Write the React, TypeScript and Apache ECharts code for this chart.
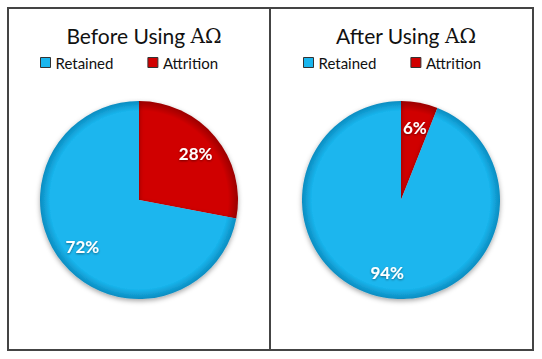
import React, { useEffect, useRef } from "react";
import * as echarts from "echarts";

const categories = ["Attrition", "Retained"];
const beforeValues = [28, 72];
const afterValues = [6, 94];
const titles = ["Before Using ", "After Using "];
const titleSuffix = "AΩ";
const legendNames = ["Retained", "Attrition"];

const BLUE = "#1ab6ee";
const BLUE_DARK = "#0b8cc0";
const RED = "#d00000";
const RED_DARK = "#9a0000";

const radial = (cx: number, cy: number, r: number, c1: string, c2: string) => ({
  type: "radial",
  x: cx,
  y: cy,
  r,
  global: true,
  colorStops: [
    { offset: 0, color: c1 },
    { offset: 0.9, color: c1 },
    { offset: 1, color: c2 },
  ],
});

export default function App() {
  const ref = useRef<HTMLDivElement>(null);
  useEffect(() => {
    document.body.style.margin = "0";
    const chart = echarts.init(ref.current!, undefined, { renderer: "svg" });
    const centers: [number, number][] = [
      [139, 200],
      [401, 200],
    ];
    const R = 99;
    const datasets = [beforeValues, afterValues];

    const series: any[] = [];
    datasets.forEach((vals, i) => {
      const [cx, cy] = centers[i];
      const colors: Record<string, any> = {
        Retained: radial(cx, cy, R, BLUE, BLUE_DARK),
        Attrition: radial(cx, cy, R, RED, RED_DARK),
      };
      series.push({
        type: "pie",
        name: "pie" + i,
        center: [cx, cy],
        radius: [0, R],
        startAngle: 90,
        clockwise: true,
        silent: true,
        label: { show: false },
        labelLine: { show: false },
        itemStyle: {
          shadowBlur: 5,
          shadowOffsetY: 2,
          shadowColor: "rgba(0,0,0,0.35)",
        },
        data: categories.map((c, k) => ({
          name: c,
          value: vals[k],
          itemStyle: { color: colors[c] },
        })),
      });
      series.push({
        type: "pie",
        name: "labels" + i,
        center: [cx, cy],
        radius: [42, R],
        startAngle: 90,
        clockwise: true,
        silent: true,
        itemStyle: { color: "rgba(0,0,0,0)" },
        label: {
          show: true,
          position: "inside",
          formatter: "{c}%",
          color: "#ffffff",
          fontFamily: "Lato",
          fontWeight: "bold",
          fontSize: 17,
          textShadowColor: "rgba(0,0,0,0.45)",
          textShadowBlur: 2,
          textShadowOffsetY: 1,
        },
        labelLine: { show: false },
        data: categories.map((c, k) => ({ name: c, value: vals[k] })),
      });
    });

    const legendColors: Record<string, string> = { Retained: BLUE, Attrition: RED };
    const legendLefts = [35, 298];

    chart.setOption({
      animation: false,
      title: titles.map((t, i) => ({
        text: "{a|" + t + "}{b|" + titleSuffix + "}",
        left: centers[i][0],
        top: 20,
        textAlign: "center",
        textStyle: {
          fontWeight: "normal",
          rich: {
            a: { fontFamily: "Lato", fontSize: 21, fontWeight: "normal", color: "#111" },
            b: { fontFamily: "DejaVu Serif", fontSize: 20, fontWeight: "normal", color: "#111" },
          },
        },
      })),
      legend: legendLefts.map((l) => ({
        left: l,
        top: 50,
        icon: "rect",
        itemWidth: 10,
        itemHeight: 10,
        itemGap: 34,
        selectedMode: false,
        textStyle: { fontFamily: "Lato", fontSize: 15, color: "#111" },
        data: legendNames.map((n) => ({
          name: n,
          itemStyle: { color: legendColors[n], borderColor: "#333", borderWidth: 1 },
        })),
      })),
      graphic: [
        {
          type: "rect",
          shape: { x: 8, y: 8, width: 525, height: 342 },
          style: { fill: "none", stroke: "#444", lineWidth: 2 },
        },
        {
          type: "line",
          shape: { x1: 270, y1: 8, x2: 270, y2: 350 },
          style: { stroke: "#444", lineWidth: 2 },
        },
      ],
      series,
    });
    return () => chart.dispose();
  }, []);
  return <div ref={ref} style={{ width: 542, height: 359 }} />;
}
